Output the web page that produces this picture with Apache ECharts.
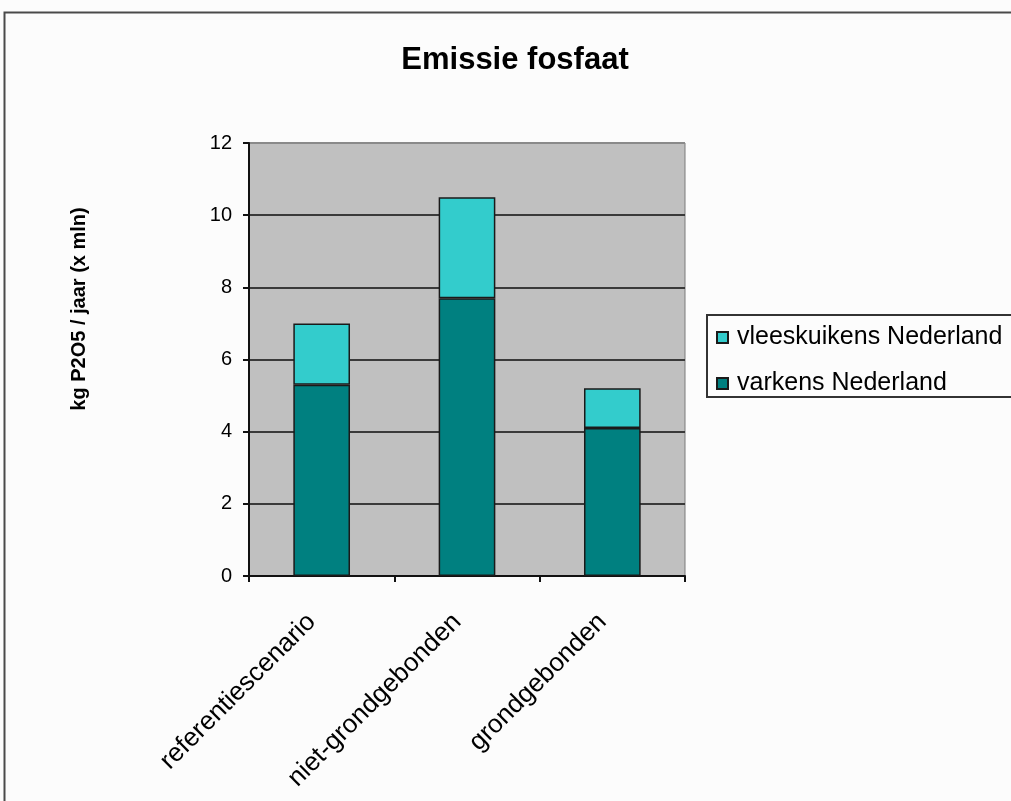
<!DOCTYPE html>
<html>
<head>
<meta charset="utf-8">
<title>Emissie fosfaat</title>
<script src="https://cdn.jsdelivr.net/npm/echarts@6/dist/echarts.min.js"></script>
<style>
  html, body { margin: 0; padding: 0; background: #fcfcfc; }
  #chart { width: 1011px; height: 801px; }
</style>
</head>
<body>
<div id="chart"></div>
<script>
// Scenario categories and stacked phosphate emissions (kg P2O5 / jaar, x mln)
var categories = ['referentiescenario', 'niet-grondgebonden', 'grondgebonden'];
var varkens = [5.3, 7.7, 4.1];
var vleeskuikens = [1.7, 2.8, 1.1];
var yTicks = { min: 0, max: 12, interval: 2 };

var FONT = '"Liberation Sans", Arial, sans-serif';

var chart = echarts.init(document.getElementById('chart'), null, { renderer: 'canvas' });

chart.setOption({
  backgroundColor: '#fcfcfc',
  animation: false,
  title: {
    text: 'Emissie fosfaat',
    left: 510,
    textAlign: 'center',
    top: 40,
    textStyle: { fontFamily: FONT, fontWeight: 'bold', fontSize: 31, color: '#000' }
  },
  legend: {
    orient: 'vertical',
    left: 716,
    top: 325,
    padding: 0,
    itemWidth: 11,
    itemHeight: 11,
    itemGap: 21,
    icon: 'rect',
    data: ['vleeskuikens Nederland', 'varkens Nederland'],
    textStyle: { fontFamily: FONT, fontSize: 25, lineHeight: 22, color: '#000', padding: [0, 0, 0, 4] }
  },
  grid: {
    left: 249, right: 326, top: 143, bottom: 225,
    show: true,
    backgroundColor: '#c0c0c0',
    borderColor: '#7a7a7a',
    borderWidth: 1
  },
  xAxis: {
    type: 'category',
    data: categories,
    axisLine: { lineStyle: { color: '#111', width: 2 } },
    axisTick: { show: true, length: 6, lineStyle: { color: '#111', width: 2 } },
    axisLabel: {
      rotate: 45,
      margin: 32,
      padding: [0, 14, 0, 0],
      fontFamily: FONT,
      fontSize: 26,
      color: '#000'
    }
  },
  yAxis: {
    type: 'value',
    min: yTicks.min,
    max: yTicks.max,
    interval: yTicks.interval,
    axisLine: { show: true, lineStyle: { color: '#111', width: 2 } },
    axisTick: { show: true, length: 6, lineStyle: { color: '#111', width: 2 } },
    axisLabel: { margin: 17, fontFamily: FONT, fontSize: 20, color: '#000' },
    splitLine: {
      show: true,
      lineStyle: {
        color: ['#3a3a3a', '#3a3a3a', '#3a3a3a', '#3a3a3a', '#3a3a3a', '#3a3a3a', '#8a8a8a'],
        width: 2
      }
    }
  },
  series: [
    {
      name: 'varkens Nederland',
      type: 'bar',
      stack: 'totaal',
      barCategoryGap: '61%',
      data: varkens,
      itemStyle: { color: '#008080', borderColor: '#1a1a1a', borderWidth: 1.5 }
    },
    {
      name: 'vleeskuikens Nederland',
      type: 'bar',
      stack: 'totaal',
      barCategoryGap: '61%',
      data: vleeskuikens,
      itemStyle: { color: '#33cccc', borderColor: '#1a1a1a', borderWidth: 1.5 }
    }
  ],
  graphic: [
    {
      // outer chart frame
      type: 'rect',
      silent: true,
      shape: { x: 4.5, y: 12.5, width: 1100, height: 900 },
      style: { fill: null, stroke: '#4a4a4a', lineWidth: 2 }
    },
    {
      // legend frame
      type: 'rect',
      silent: true,
      shape: { x: 707, y: 315, width: 330, height: 82 },
      style: { fill: null, stroke: '#333', lineWidth: 2 }
    },
    {
      // value axis title
      type: 'text',
      silent: true,
      x: 79,
      y: 309,
      rotation: Math.PI / 2,
      style: {
        text: 'kg P2O5 / jaar (x mln)',
        font: 'bold 20px ' + FONT,
        fill: '#000',
        textAlign: 'center',
        textVerticalAlign: 'middle'
      }
    }
  ]
});
</script>
</body>
</html>
